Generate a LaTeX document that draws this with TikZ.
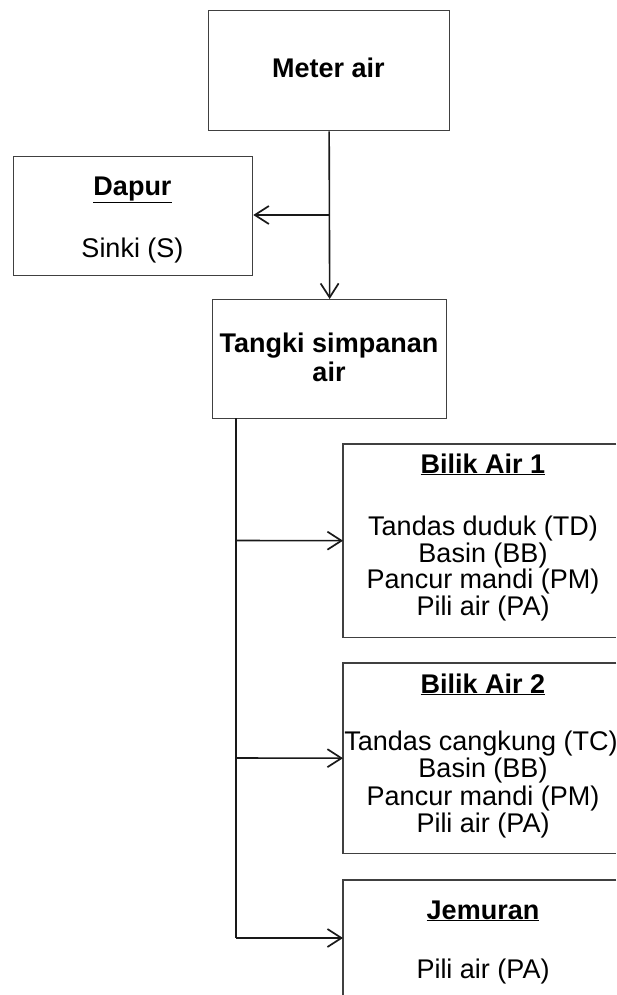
\documentclass[tikz,border=0pt]{standalone}
\usepackage{fontspec}
\setmainfont{Liberation Sans}
\usetikzlibrary{arrows.meta}
\begin{document}
\begin{tikzpicture}[x=1pt,y=-1pt,
  box/.style={draw=black!75, line width=1.3pt, rectangle, anchor=north west, inner sep=0pt},
  cutbox/.style={rectangle, anchor=north west, inner sep=0pt},
  side/.style={draw=black!75, line width=1.3pt},
  txt/.style={font=\fontsize{27}{29}\selectfont, inner sep=0pt, anchor=base, text=black},
  bt/.style={txt, font=\fontsize{27}{29}\selectfont\bfseries},
  conn/.style={draw=black!90, line width=1.6pt},
  arr/.style={conn, -{Straight Barb[length=14pt,width=18pt,line width=1.7pt]}}]
\useasboundingbox (0,0) rectangle (616,995);
% boxes
\node[box, minimum width=241pt, minimum height=120pt] (meter) at (208,10) {};
\node[box, minimum width=239pt, minimum height=119pt] (dapur) at (13,156) {};
\node[box, minimum width=234pt, minimum height=119pt] (tank) at (212,299) {};
\node[cutbox, minimum width=273pt, minimum height=193pt] (b1) at (343,444) {};
\node[cutbox, minimum width=273pt, minimum height=190pt] (b2) at (343,663) {};
\node[cutbox, minimum width=273pt, minimum height=116pt] (jem) at (343,880) {};
\draw[side] (b1.north east) -- (b1.north west) -- (b1.south west) -- (b1.south east);
\draw[side] (b2.north east) -- (b2.north west) -- (b2.south west) -- (b2.south east);
\draw[side] (jem.north east) -- (jem.north west) -- (jem.south west);
% texts
\node[bt] (tmeter) at (328.5,78) {Meter air};
\node[bt] (tdapur) at (132.5,195) {\underline{Dapur}};
\node[txt] (tsinki) at (132.5,257) {Sinki (S)};
\node[bt] (ttank1) at (329,352) {Tangki simpanan};
\node[bt] (ttank2) at (329,381) {air};
\node[bt] (tb1) at (483,473) {\underline{Bilik Air 1}};
\node[txt] (tb1a) at (483,535) {Tandas duduk (TD)};
\node[txt] (tb1b) at (483,562) {Basin (BB)};
\node[txt] (tb1c) at (483,588) {Pancur mandi (PM)};
\node[txt] (tb1d) at (483,615) {Pili air (PA)};
\node[bt] (tb2) at (483,693) {\underline{Bilik Air 2}};
\node[txt] (tb2a) at (481,750) {Tandas cangkung (TC)};
\node[txt] (tb2b) at (483,777) {Basin (BB)};
\node[txt] (tb2c) at (483,805) {Pancur mandi (PM)};
\node[txt] (tb2d) at (483,832) {Pili air (PA)};
\node[bt] (tjem) at (483,919) {\underline{Jemuran}};
\node[txt] (tjema) at (483,978) {Pili air (PA)};
% connectors
\coordinate (j1) at (meter.south |- 0,215);
\draw[arr] (meter.south) -- (tank.north);
\draw[arr] (j1) -- (j1 -| dapur.east);
\coordinate (trunk) at (236,418);
\draw[conn] (trunk) -- (trunk |- 0,938);
\draw[arr] (trunk |- 0,540.5) -- (b1.west);
\draw[arr] (trunk |- 0,758) -- (b2.west);
\draw[arr] (trunk |- 0,938) -- (jem.west |- 0,938);
\end{tikzpicture}
\end{document}
